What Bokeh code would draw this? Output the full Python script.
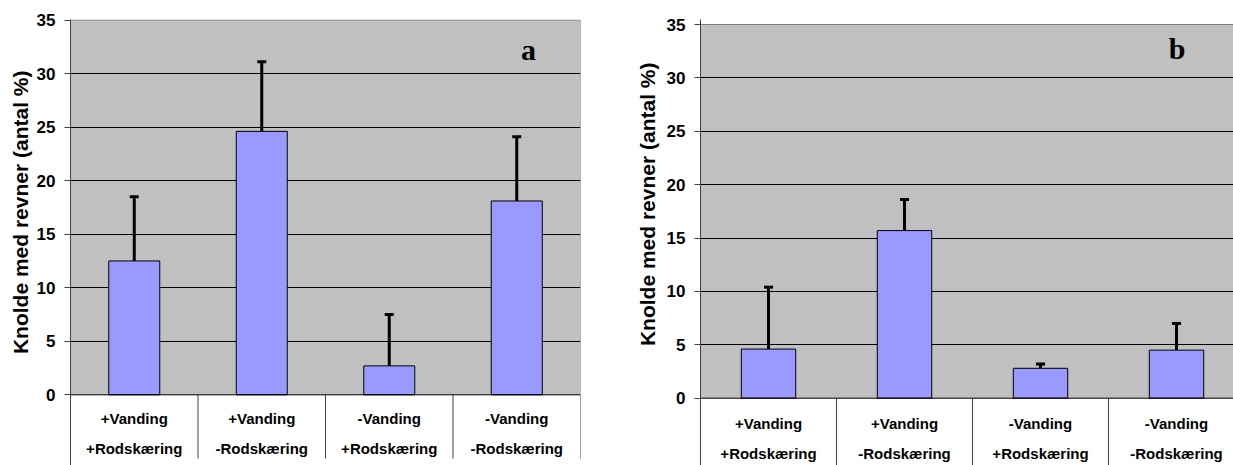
import math
from bokeh.plotting import figure
from bokeh.layouts import row
from bokeh.models import (Range1d, FixedTicker, Span, Whisker, TeeHead,
                          ColumnDataSource, Title)
from bokeh.core.properties import value
from bokeh.embed import file_html
from bokeh.resources import INLINE

# ---------------- data ----------------
label_line1 = ["+Vanding", "+Vanding", "-Vanding", "-Vanding"]
label_line2 = ["+Rodskæring", "-Rodskæring", "+Rodskæring", "-Rodskæring"]
values_a = [12.5, 24.6, 2.7, 18.1]
errors_a = [6.0, 6.5, 4.8, 6.0]
values_b = [4.6, 15.7, 2.8, 4.5]
errors_b = [5.8, 2.9, 0.4, 2.5]
y_ticks = [0, 5, 10, 15, 20, 25, 30, 35]
panel_letters = ["a", "b"]
y_title = "Knolde med revner (antal %)"

SANS = "Liberation Sans"
SERIF = "Liberation Serif"
H = 465
FRAME_TOP = 19
FRAME_BOTTOM = H


def make_panel(vals, errs, letter, width, border_left, border_right,
               top_px, zero_px, sep_bottom_px, x_end, label_offsets, letter_px,
               frame_left, ppx, right_border, title_end_px, title_standoff):
    n = len(vals)
    ppu = (zero_px - top_px) / y_ticks[-1]
    y_top = y_ticks[-1] + (top_px - FRAME_TOP) / ppu
    y_bottom = -(FRAME_BOTTOM - zero_px) / ppu
    sep_bottom = -(sep_bottom_px - zero_px) / ppu
    p = figure(width=width, height=H, output_backend="svg", toolbar_location=None,
               x_range=Range1d(0, x_end), y_range=Range1d(y_bottom, y_top),
               x_axis_location=None, min_border_left=border_left,
               min_border_right=border_right, min_border_top=FRAME_TOP,
               min_border_bottom=0)
    p.outline_line_color = None
    p.background_fill_color = "white"
    p.border_fill_color = "white"

    # gray plotting area
    p.quad(left=[0], right=[n], bottom=[0], top=[y_ticks[-1]],
           fill_color="#C0C0C0", line_color=None, level="image")

    # grid
    p.xgrid.visible = False
    p.ygrid.ticker = FixedTicker(ticks=y_ticks[1:-1])
    p.ygrid.grid_line_color = "black"
    p.ygrid.grid_line_width = 1

    # y axis
    ax = p.yaxis[0]
    ax.ticker = FixedTicker(ticks=y_ticks)
    ax.minor_tick_line_color = None
    ax.major_tick_in = 0
    ax.major_tick_out = 6
    ax.major_label_standoff = 9
    ax.axis_line_color = "#404040"
    ax.major_tick_line_color = "#404040"
    ax.major_label_text_font = SANS
    ax.major_label_text_font_style = "bold"
    ax.major_label_text_font_size = "17px"
    ax.major_label_text_color = "black"

    # y-axis title, anchored at its upper end
    p.add_layout(Title(text=y_title, align="right", offset=title_end_px - FRAME_TOP,
                       text_font=SANS, text_font_style="bold", text_font_size="21px",
                       text_color="black", standoff=title_standoff), "left")

    # separators of the category table
    seps = list(range(n + 1))
    p.segment(x0=seps, y0=[0] * len(seps), x1=seps, y1=[sep_bottom] * len(seps),
              line_color="#404040", line_width=1)
    if right_border:
        p.segment(x0=[n], y0=[0], x1=[n], y1=[y_ticks[-1]], line_color="#808080",
                  line_width=1)

    # top border and zero line
    p.segment(x0=[0], y0=[y_ticks[-1]], x1=[n], y1=[y_ticks[-1]],
              line_color="#808080", line_width=1)
    p.add_layout(Span(location=0, dimension="width", line_color="black", line_width=1))

    xs = [i + 0.5 for i in range(n)]
    src = ColumnDataSource(dict(x=xs, top=vals,
                                hi=[v + e for v, e in zip(vals, errs)]))
    p.vbar(x="x", top="top", bottom=0, width=0.4, source=src,
           fill_color="#9999FF", line_color="black", line_width=1)
    p.add_layout(Whisker(source=src, base="x", lower="top", upper="hi",
                         line_color="black", line_width=3,
                         upper_head=TeeHead(size=9, line_width=3, line_color="black"),
                         lower_head=None))

    # category labels
    for lines, off in zip([label_line1, label_line2], label_offsets):
        p.text(x=xs, y=[-off / ppu] * n, text=lines, text_align="center",
               text_baseline="middle", text_font=value(SANS), text_font_style="bold",
               text_font_size="15px", text_color="black")

    # panel letter
    p.text(x=[(letter_px[0] - frame_left) / ppx], y=[(zero_px - letter_px[1]) / ppu],
           text=[letter], text_font=value(SERIF), text_font_style="bold",
           text_font_size="30px", text_align="center",
           text_baseline="alphabetic", text_color="black")
    return p


# panel a: page x 0..610, frame 70..580
pa = make_panel(values_a, errors_a, panel_letters[0], width=610, border_left=70,
                border_right=30, top_px=19.5, zero_px=394.3, sep_bottom_px=458,
                x_end=4.0, label_offsets=(24, 54), letter_px=(528, 48.5),
                frame_left=70, ppx=127.5, right_border=True,
                title_end_px=70, title_standoff=3)

# panel b: page x 610..1233, frame 700..1233
pb = make_panel(values_b, errors_b, panel_letters[1], width=623, border_left=90,
                border_right=0, top_px=24, zero_px=397.7, sep_bottom_px=470,
                x_end=533 / 136.0, label_offsets=(25, 55), letter_px=(1176.7, 47.5),
                frame_left=700, ppx=136.0, right_border=False,
                title_end_px=62, title_standoff=10)

layout = row(pa, pb)
open("out.html", "w").write(file_html(layout, INLINE))
